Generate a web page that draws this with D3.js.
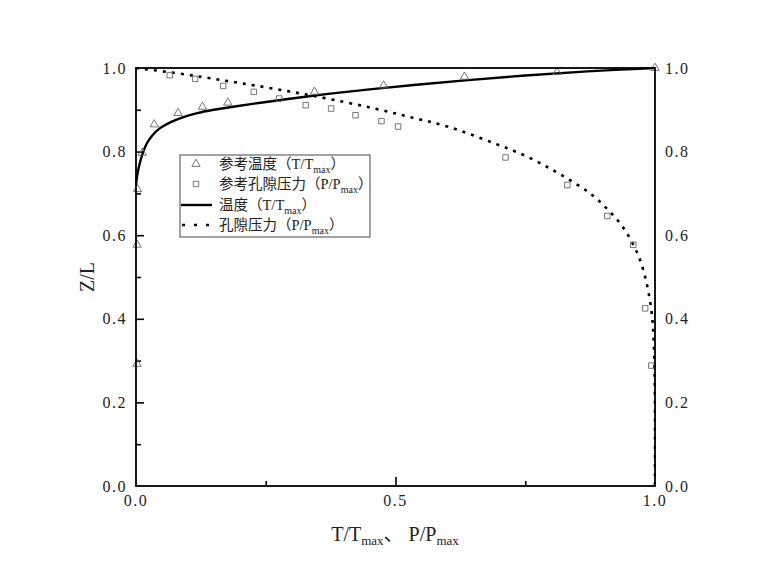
<!DOCTYPE html>
<html><head><meta charset="utf-8">
<script src="https://cdn.jsdelivr.net/npm/d3@7"></script>
<style>body{margin:0;background:#fff;} svg{display:block;}</style>
</head><body>
<svg id="c" width="760" height="581"></svg>
<script>
// ---- data ----
const refTempX = [0.002, 0.002, 0.003, 0.012, 0.035, 0.081, 0.128, 0.177, 0.344, 0.477, 0.633, 0.811, 1.0];
const refTempZ = [0.292, 0.577, 0.710, 0.797, 0.865, 0.892, 0.907, 0.917, 0.943, 0.958, 0.979, 0.990, 1.0];
const refPoreX = [0.065, 0.114, 0.168, 0.227, 0.276, 0.327, 0.376, 0.423, 0.473, 0.505, 0.712, 0.831, 0.908, 0.958, 0.981, 0.993];
const refPoreZ = [0.983, 0.974, 0.957, 0.943, 0.927, 0.911, 0.903, 0.887, 0.873, 0.860, 0.786, 0.720, 0.646, 0.577, 0.425, 0.288];
const tempX = [0.0, 0.002, 0.005, 0.009, 0.014, 0.021, 0.031, 0.045, 0.066, 0.090, 0.118, 0.150, 0.190, 0.240, 0.300, 0.370, 0.450, 0.540, 0.640, 0.750, 0.870, 1.0];
const tempZ = [0.720, 0.740, 0.760, 0.780, 0.800, 0.820, 0.838, 0.855, 0.870, 0.882, 0.892, 0.900, 0.908, 0.917, 0.927, 0.938, 0.949, 0.960, 0.971, 0.982, 0.992, 1.0];
const poreX = [0.0, 0.07, 0.13, 0.18, 0.23, 0.30, 0.38, 0.46, 0.53, 0.60, 0.69, 0.75, 0.80, 0.845, 0.88, 0.91, 0.935, 0.955, 0.97, 0.98, 0.988, 0.994, 0.997, 0.999, 1.0, 1.0];
const poreZ = [1.0, 0.989, 0.978, 0.968, 0.958, 0.943, 0.924, 0.903, 0.882, 0.860, 0.820, 0.790, 0.758, 0.725, 0.695, 0.660, 0.625, 0.585, 0.545, 0.505, 0.460, 0.410, 0.360, 0.280, 0.180, 0.0];
const xTickLabels = ["0.0", "0.5", "1.0"];
const yTickLabels = ["0.0", "0.2", "0.4", "0.6", "0.8", "1.0"];
const legendLabels = [["参考温度（T/T", "max", "）"], ["参考孔隙压力（P/P", "max", "）"], ["温度（T/T", "max", "）"], ["孔隙压力（P/P", "max", "）"]];
const yTitle = "Z/L";

// ---- layout ----
const L = 136, R = 655, T = 68, B = 486;
const x = d3.scaleLinear().domain([0, 1]).range([L, R]);
const y = d3.scaleLinear().domain([0, 1]).range([B, T]);
const svg = d3.select("#c");
const numFont = "'Liberation Serif', 'DejaVu Serif', serif";
const cjkFont = "'Liberation Serif', 'Noto Sans CJK SC', serif";

svg.append("defs").append("clipPath").attr("id", "pa")
  .append("rect").attr("x", L - 1).attr("y", T - 1).attr("width", R - L + 2).attr("height", B - T + 2);

// ticks
const gx = svg.append("g").attr("transform", `translate(0,${B})`)
  .call(d3.axisBottom(x).tickValues([0.5]).tickSizeInner(-9).tickSizeOuter(0).tickFormat(""));
const gxm = svg.append("g").attr("transform", `translate(0,${B})`)
  .call(d3.axisBottom(x).tickValues([0.25, 0.75]).tickSizeInner(-5).tickSizeOuter(0).tickFormat(""));
const gy = svg.append("g").attr("transform", `translate(${L},0)`)
  .call(d3.axisLeft(y).tickValues([0.2, 0.4, 0.6, 0.8]).tickSizeInner(-8).tickSizeOuter(0).tickFormat(""));
const gym = svg.append("g").attr("transform", `translate(${L},0)`)
  .call(d3.axisLeft(y).tickValues([0.1, 0.3, 0.5, 0.7, 0.9]).tickSizeInner(-5).tickSizeOuter(0).tickFormat(""));
[gx, gxm, gy, gym].forEach(g => {
  g.select(".domain").remove();
  g.selectAll(".tick line").attr("stroke", "#000").attr("stroke-width", 1.6);
});

// tick labels
const xt = xTickLabels.map(Number);
svg.append("g").selectAll("text").data(xt).join("text")
  .attr("x", d => x(d)).attr("y", B + 20).attr("text-anchor", "middle")
  .attr("font-family", numFont).attr("font-size", 16).attr("letter-spacing", 1.5).attr("fill", "#222")
  .text((d, i) => xTickLabels[i]);
const yt = yTickLabels.map(Number);
svg.append("g").selectAll("text").data(yt).join("text")
  .attr("x", L - 9).attr("y", d => y(d) + 5.5).attr("text-anchor", "end")
  .attr("font-family", numFont).attr("font-size", 16).attr("letter-spacing", 1.5).attr("fill", "#222")
  .text((d, i) => yTickLabels[i]);
svg.append("g").selectAll("text").data(yt).join("text")
  .attr("x", R + 10).attr("y", d => y(d) + 5.5).attr("text-anchor", "start")
  .attr("font-family", numFont).attr("font-size", 16).attr("letter-spacing", 1.5).attr("fill", "#222")
  .text((d, i) => yTickLabels[i]);

// axis titles
const xtT = svg.append("text").attr("x", 395).attr("y", 541).attr("text-anchor", "middle")
  .attr("font-family", cjkFont).attr("font-size", 20).attr("fill", "#222");
xtT.append("tspan").text("T/T");
xtT.append("tspan").attr("font-size", 13).attr("dy", 4).text("max");
xtT.append("tspan").attr("dy", -4).text("、 P/P");
xtT.append("tspan").attr("font-size", 13).attr("dy", 4).text("max");
svg.append("text").attr("transform", "translate(94,277) rotate(-90)").attr("text-anchor", "middle")
  .attr("font-family", numFont).attr("font-size", 20).attr("fill", "#222").text(yTitle);

// curves
const plot = svg.append("g").attr("clip-path", "url(#pa)");
const tempData = tempX.map((v, i) => [v, tempZ[i]]);
const poreData = poreX.map((v, i) => [v, poreZ[i]]);
const line = d3.line().x(d => x(d[0])).y(d => y(d[1])).curve(d3.curveCatmullRom);
plot.append("path").datum(tempData).attr("d", line)
  .attr("fill", "none").attr("stroke", "#000").attr("stroke-width", 2.4);
plot.append("path").datum(poreData).attr("d", line)
  .attr("fill", "none").attr("stroke", "#000").attr("stroke-width", 2.6).attr("stroke-dasharray", "3,6");

// markers
const triPath = d3.symbol().type(d3.symbolTriangle).size(30);
const sqPath = d3.symbol().type(d3.symbolSquare).size(30);
svg.append("g").selectAll("path").data(refTempX.map((v, i) => [v, refTempZ[i]])).join("path")
  .attr("d", triPath).attr("transform", d => `translate(${x(d[0])},${y(d[1])})`)
  .attr("fill", "none").attr("stroke", "#666").attr("stroke-width", 0.9);
svg.append("g").selectAll("path").data(refPoreX.map((v, i) => [v, refPoreZ[i]])).join("path")
  .attr("d", sqPath).attr("transform", d => `translate(${x(d[0])},${y(d[1])})`)
  .attr("fill", "none").attr("stroke", "#666").attr("stroke-width", 0.9);

// frame
svg.append("rect").attr("x", L).attr("y", T).attr("width", R - L).attr("height", B - T)
  .attr("fill", "none").attr("stroke", "#000").attr("stroke-width", 1.8);

// legend
const lg = svg.append("g");
lg.append("rect").attr("x", 180).attr("y", 155).attr("width", 190).attr("height", 82)
  .attr("fill", "#fff").attr("stroke", "#666").attr("stroke-width", 1.2);
const rowsY = [164, 184, 205, 225];
lg.append("path").attr("d", triPath).attr("transform", `translate(196,${rowsY[0]})`)
  .attr("fill", "none").attr("stroke", "#666").attr("stroke-width", 0.9);
lg.append("path").attr("d", sqPath).attr("transform", `translate(196,${rowsY[1]})`)
  .attr("fill", "none").attr("stroke", "#666").attr("stroke-width", 0.9);
lg.append("line").attr("x1", 181).attr("x2", 212).attr("y1", rowsY[2]).attr("y2", rowsY[2])
  .attr("stroke", "#000").attr("stroke-width", 2.4);
lg.append("line").attr("x1", 182).attr("x2", 212).attr("y1", rowsY[3]).attr("y2", rowsY[3])
  .attr("stroke", "#000").attr("stroke-width", 2.6).attr("stroke-dasharray", "3,9");
legendLabels.forEach((parts, i) => {
  const t = lg.append("text").attr("x", 219).attr("y", rowsY[i] + 5)
    .attr("font-family", cjkFont).attr("font-size", 14.5).attr("fill", "#222");
  t.append("tspan").text(parts[0]);
  t.append("tspan").attr("font-size", 10).attr("dy", 4).text(parts[1]);
  t.append("tspan").attr("dy", -4).text(parts[2]);
});
</script>
</body></html>
